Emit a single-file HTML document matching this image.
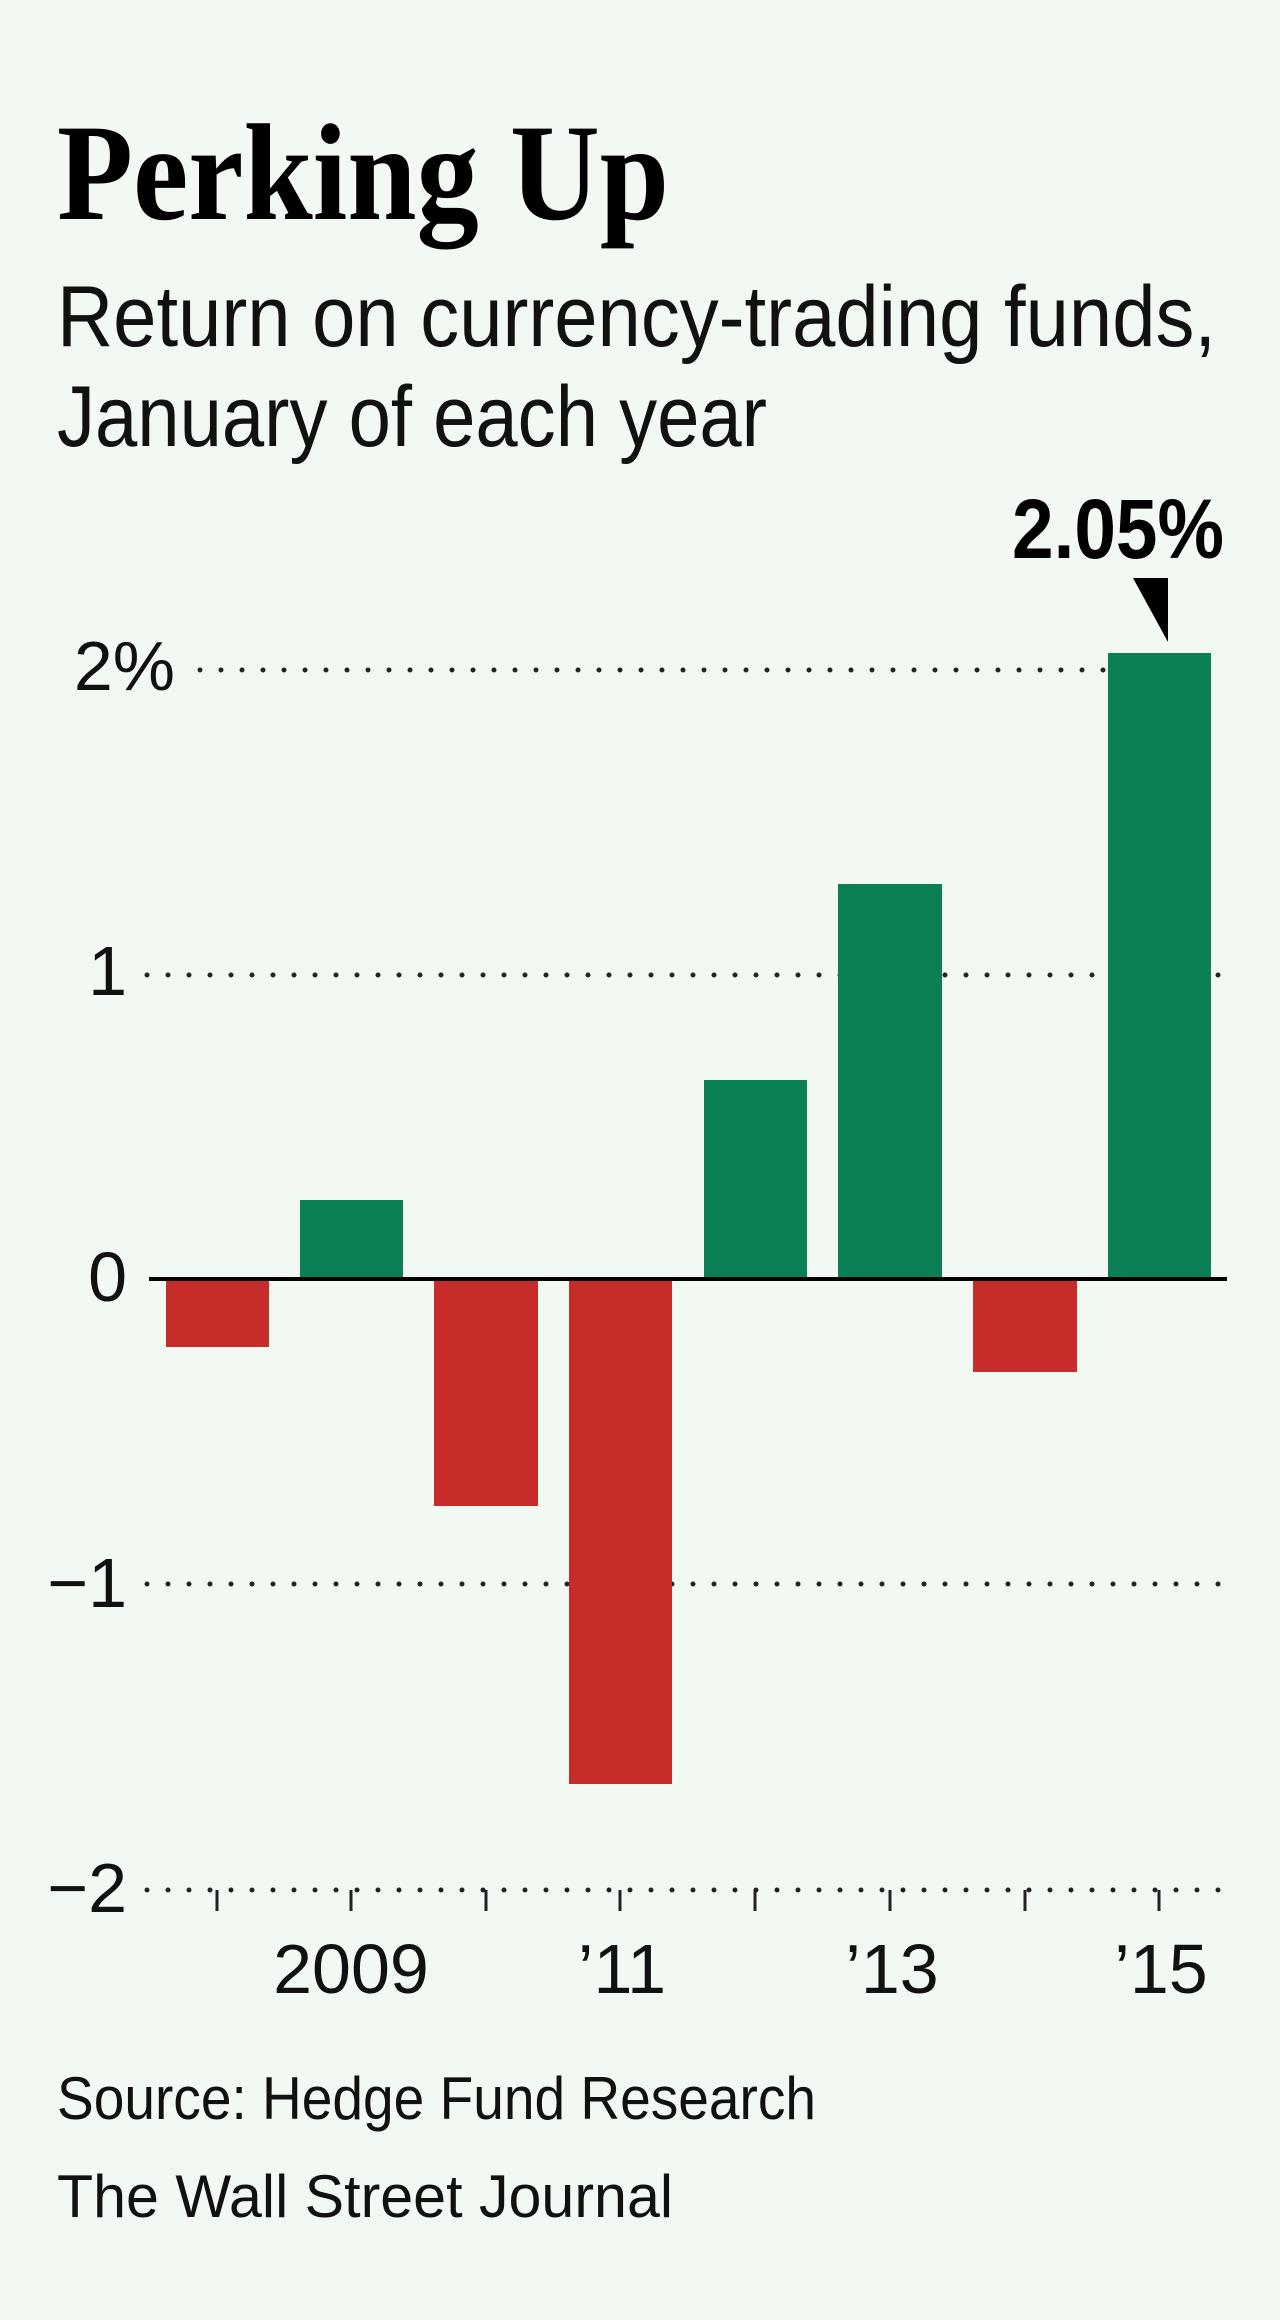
<!DOCTYPE html>
<html><head><meta charset="utf-8"><style>
html,body{margin:0;padding:0;background:#f2f8f2;}
svg{display:block;}
</style></head><body>
<svg width="1280" height="2320" viewBox="0 0 1280 2320" xmlns="http://www.w3.org/2000/svg">
<rect width="1280" height="2320" fill="#f2f8f2"/>
<text x="57" y="219" font-family="Liberation Serif, serif" font-weight="bold" font-size="138" textLength="612" lengthAdjust="spacingAndGlyphs" fill="#000">Perking Up</text>
<g font-family="Liberation Sans Narrow, Liberation Sans, sans-serif" fill="#111">
<text x="57" y="346" font-size="86" textLength="1159" lengthAdjust="spacingAndGlyphs">Return on currency-trading funds,</text>
<text x="57" y="446" font-size="86" textLength="710" lengthAdjust="spacingAndGlyphs">January of each year</text>
<text x="1012" y="558" font-size="84" font-weight="bold" textLength="212" lengthAdjust="spacingAndGlyphs" fill="#000">2.05%</text>
</g>
<polygon points="1133,578 1168,578 1168,642" fill="#000"/>
<g stroke="#222" stroke-width="5" stroke-linecap="round" stroke-dasharray="0 21">
<line x1="200" y1="670" x2="1222" y2="670"/>
<line x1="147" y1="975" x2="1222" y2="975"/>
<line x1="147" y1="1584" x2="1222" y2="1584"/>
<line x1="147" y1="1890" x2="1222" y2="1890"/>
</g>
<g fill="#0b8055">
<rect x="300" y="1200" width="103" height="79"/>
<rect x="704" y="1080" width="103" height="199"/>
<rect x="838" y="884" width="104" height="395"/>
<rect x="1108" y="653" width="103" height="626"/>
</g>
<g fill="#c62c2a">
<rect x="166" y="1279" width="103" height="68"/>
<rect x="434" y="1279" width="104" height="227"/>
<rect x="569" y="1279" width="103" height="505"/>
<rect x="973" y="1279" width="104" height="93"/>
</g>
<line x1="149" y1="1279" x2="1227" y2="1279" stroke="#000" stroke-width="4"/>
<g stroke="#222" stroke-width="3">
<line x1="217" y1="1890" x2="217" y2="1911"/><line x1="351" y1="1890" x2="351" y2="1911"/>
<line x1="486" y1="1890" x2="486" y2="1911"/><line x1="620" y1="1890" x2="620" y2="1911"/>
<line x1="755" y1="1890" x2="755" y2="1911"/><line x1="890" y1="1890" x2="890" y2="1911"/>
<line x1="1025" y1="1890" x2="1025" y2="1911"/><line x1="1159" y1="1890" x2="1159" y2="1911"/>
</g>
<g font-family="Liberation Sans Narrow, Liberation Sans, sans-serif" fill="#111" font-size="70">
<text x="175" y="690" text-anchor="end">2%</text>
<text x="127" y="995" text-anchor="end">1</text>
<text x="127" y="1301" text-anchor="end">0</text>
<text x="127" y="1607" text-anchor="end">−1</text>
<text x="127" y="1912" text-anchor="end">−2</text>
<text x="351" y="1993" text-anchor="middle">2009</text>
<text x="622" y="1993" text-anchor="middle">’11</text>
<text x="892" y="1993" text-anchor="middle">’13</text>
<text x="1161" y="1993" text-anchor="middle">’15</text>
<text x="57" y="2119" font-size="60" textLength="759" lengthAdjust="spacingAndGlyphs">Source: Hedge Fund Research</text>
<text x="57" y="2217" font-size="60" textLength="616" lengthAdjust="spacingAndGlyphs">The Wall Street Journal</text>
</g>
</svg>
</body></html>
